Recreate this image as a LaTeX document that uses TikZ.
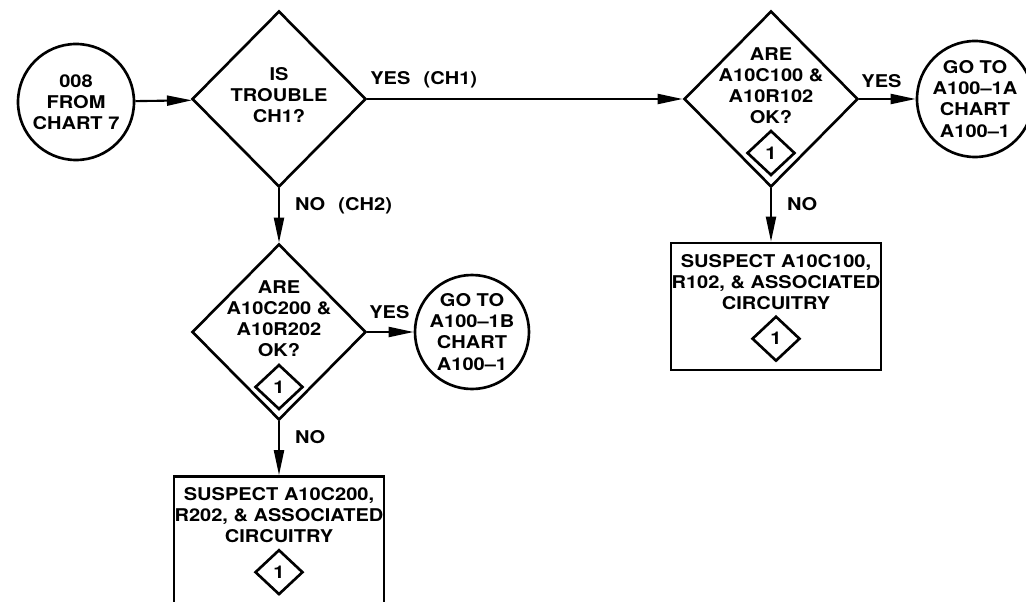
\documentclass[tikz,border=0pt]{standalone}
\usepackage{fontspec}
\setmainfont{TeX Gyre Heros}[FakeStretch=1.14]
\usetikzlibrary{shapes.geometric,arrows.meta,positioning}

\begin{document}
\begin{tikzpicture}[node distance=4cm, auto,
    every node/.style={font=\fontsize{10}{12}\selectfont\bfseries},
    decision/.style={diamond, draw, line width=1.5pt, minimum width=3.48cm, minimum height=3.52cm, inner sep=0pt},
    term/.style={circle, draw, line width=1.5pt, minimum size=2.32cm, align=center, inner sep=0pt},
    block/.style={rectangle, draw, line width=1.5pt, minimum width=4.2cm, minimum height=2.54cm},
    txt/.style={align=center, inner sep=0pt},
    refmark/.style={diamond, draw, line width=1.5pt, minimum width=0.96cm, minimum height=0.9cm, inner sep=0pt},
    lbl/.style={inner sep=0pt},
    arrow/.style={line width=1.2pt, -{Triangle[length=0.5cm, width=0.2cm]}}]
    \useasboundingbox (0,0) rectangle (20.52,-12.04);
    \clip (0,0) rectangle (20.52,-12.04);
    % main line
    \node [decision] (trouble) at (5.58,-1.98) {};
    \node [term, left of=trouble, node distance=4.06cm, yshift=-0.06cm] (from7) {008\\FROM\\CHART 7};
    \node [decision, right of=trouble, node distance=9.84cm] (okA) {};
    \node [term, right of=okA, node distance=4.08cm] (goA) {GO TO\\A100--1A\\CHART\\A100--1};
    \node [block, below of=okA, node distance=4.15cm, xshift=0.1cm] (suspA) {};
    % CH2 branch
    \node [decision, below of=trouble, node distance=4.66cm] (okB) {};
    \node [term, right of=okB, node distance=3.86cm, minimum size=2.22cm] (goB) {GO TO\\A100--1B\\CHART\\A100--1};
    \node [block, below of=okB, node distance=4.16cm] (suspB) {};
    % texts in the shapes
    \node [txt, yshift=0.08cm] (troubleT) at (trouble) {IS\\TROUBLE\\CH1?};
    \node [txt, yshift=0.27cm] (okAT) at (okA) {ARE\\A10C100 \&\\A10R102\\OK?};
    \node [refmark, yshift=-1.08cm] (okAM) at (okA) {1};
    \node [txt, yshift=0.27cm] (okBT) at (okB) {ARE\\A10C200 \&\\A10R202\\OK?};
    \node [refmark, yshift=-1.1cm] (okBM) at (okB) {1};
    \node [txt, anchor=north, yshift=-0.24cm] (suspAT) at (suspA.north) {SUSPECT A10C100,\\R102, \& ASSOCIATED\\CIRCUITRY};
    \node [refmark, yshift=-1.94cm] (suspAM) at (suspA.north) {1};
    \node [txt, anchor=north, yshift=-0.24cm] (suspBT) at (suspB.north) {SUSPECT A10C200,\\R202, \& ASSOCIATED\\CIRCUITRY};
    \node [refmark, yshift=-1.94cm] (suspBM) at (suspB.north) {1};
    % connectors
    \draw [arrow] (from7) -- (trouble);
    \draw [arrow] (trouble) -- node[lbl, pos=0, anchor=south west, xshift=0.04cm, yshift=0.2cm]{YES\hspace{0.75em}(CH1)} (okA);
    \draw [arrow] (trouble) -- node[lbl, pos=0, anchor=north west, xshift=0.3cm, yshift=-0.17cm]{NO\hspace{0.75em}(CH2)} (okB);
    \draw [arrow] (okA) -- node[lbl, pos=0, anchor=south west, xshift=0.02cm, yshift=0.2cm]{YES} (goA);
    \draw [arrow] (okA.south) -- node[lbl, pos=0, anchor=north west, xshift=0.3cm, yshift=-0.17cm]{NO} (okA.south |- suspA.north);
    \draw [arrow] (okB) -- node[lbl, pos=0, anchor=south west, xshift=0.02cm, yshift=0.25cm]{YES} (goB);
    \draw [arrow] (okB) -- node[lbl, pos=0, anchor=north west, xshift=0.3cm, yshift=-0.17cm]{NO} (suspB);
\end{tikzpicture}
\end{document}
